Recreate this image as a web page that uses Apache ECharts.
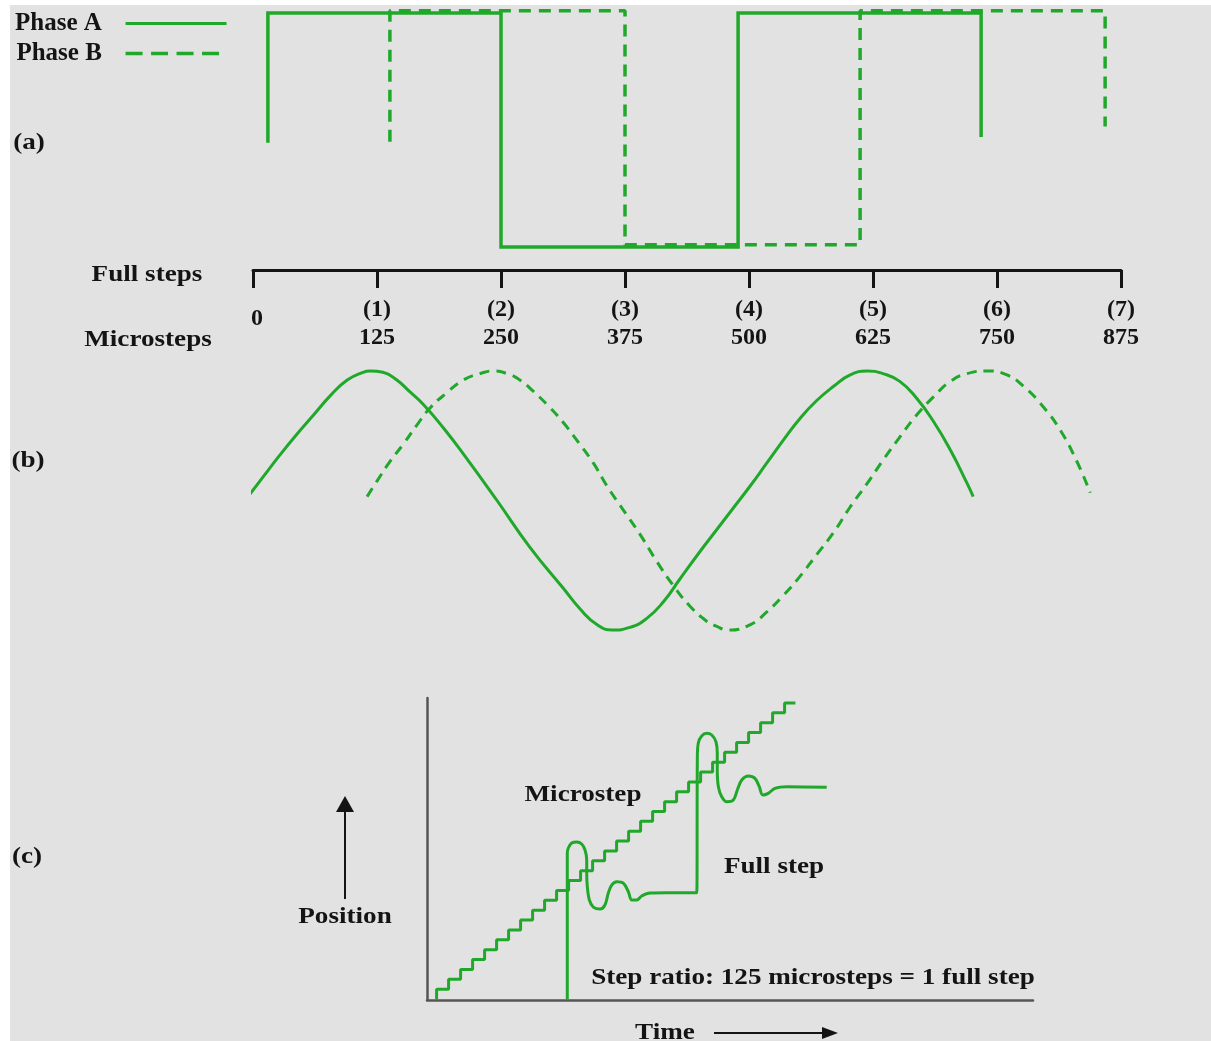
<!DOCTYPE html>
<html><head><meta charset="utf-8">
<script src="https://cdn.jsdelivr.net/npm/echarts@6/dist/echarts.min.js"></script>
<style>
html,body{margin:0;padding:0;background:#fff;}
#c{width:1211px;height:1041px;background:#e2e2e2;box-shadow:inset 10px 5px 0 0 #fff;}
</style></head><body><div id="c"></div>
<script>
// ---------- data ----------
// Panel (a): square-wave phase currents (x in microsteps, y in normalized current)
const microstepTicks = [0, 125, 250, 375, 500, 625, 750, 875];
const fullStepTicks = ['', '(1)', '(2)', '(3)', '(4)', '(5)', '(6)', '(7)'];
const squareATimes = [15, 15, 250, 250, 489, 489, 734, 734];
const squareALevels = [-0.11, 1, 1, -1, -1, 1, 1, -0.06];
const squareBTimes = [138, 138, 375, 375, 612, 612, 859, 859];
const squareBLevels = [-0.10, 1.02, 1.02, -0.98, -0.98, 1.02, 1.02, 0.03];

// Panel (b): sinusoidal phase currents
const sineATimes = [-5, 10, 27, 44, 61, 78, 95, 111, 118, 131, 145, 158, 172, 192, 212, 246, 279, 313, 330, 347, 362, 380, 397, 414, 430, 451, 467, 484, 501, 518, 535, 551, 568, 585, 602, 619, 635, 652, 669, 686, 703, 720, 726];
const sineALevels = [0.03, 0.18, 0.35, 0.51, 0.66, 0.81, 0.93, 0.99, 1.0, 0.99, 0.93, 0.84, 0.74, 0.56, 0.36, 0.0, -0.36, -0.68, -0.84, -0.96, -1.0, -0.98, -0.91, -0.78, -0.61, -0.39, -0.23, -0.06, 0.11, 0.29, 0.47, 0.63, 0.77, 0.88, 0.97, 1.0, 0.98, 0.92, 0.79, 0.61, 0.39, 0.13, 0.03];
const sineBTimes = [115, 125, 138, 152, 165, 178, 195, 212, 229, 242, 256, 269, 283, 299, 313, 326, 343, 357, 373, 390, 407, 424, 441, 457, 467, 479, 501, 518, 535, 551, 568, 585, 602, 619, 635, 652, 669, 686, 703, 720, 740, 760, 777, 797, 814, 830, 844];
const sineBLevels = [0.03, 0.15, 0.30, 0.44, 0.58, 0.71, 0.83, 0.93, 0.98, 1.0, 0.98, 0.93, 0.84, 0.72, 0.60, 0.47, 0.29, 0.11, -0.07, -0.26, -0.47, -0.66, -0.82, -0.93, -0.97, -1.0, -0.96, -0.86, -0.73, -0.59, -0.42, -0.25, -0.05, 0.13, 0.31, 0.49, 0.66, 0.80, 0.92, 0.98, 1.0, 0.97, 0.88, 0.72, 0.54, 0.31, 0.06];

// Panel (c): position vs time
const microTimes = [0.8, 1.8, 2.8, 3.8, 4.8, 5.8, 6.8, 7.8, 8.8, 9.8, 10.8, 11.8, 12.8, 13.8, 14.8, 15.8, 16.8, 17.8, 18.8, 19.8, 20.8, 21.8, 22.8, 23.8, 24.8, 25.8, 26.8, 27.8, 28.8, 29.8, 30.7];
const microPositions = [0, 1.1, 2.1, 3.1, 4.1, 5.1, 6.1, 7.1, 8.1, 9.1, 10.1, 11.1, 12.1, 13.1, 14.1, 15.1, 16.1, 17.1, 18.1, 19.1, 20.1, 21.1, 22.1, 23.1, 24.1, 25.1, 26.1, 27.1, 28.1, 29.1, 30.1];
const fullTimes = [11.69, 11.69, 11.78, 12.06, 12.48, 12.89, 13.17, 13.31, 13.31, 13.36, 13.53, 13.86, 14.42, 14.83, 15.11, 15.39, 15.81, 16.36, 16.78, 17.06, 17.48, 17.89, 18.58, 19.98, 22.48,
                   22.53, 22.61, 22.89, 23.31, 23.73, 24.08, 24.19, 24.19, 24.28, 24.56, 24.98, 25.53, 25.86, 26.23, 26.78, 27.33, 27.69, 27.98, 28.44, 29.0, 29.98, 33.31];
const fullPositions = [0, 14.89, 15.40, 15.91, 16.01, 15.81, 15.20, 14.18, 12.87, 11.48, 10.13, 9.42, 9.22, 9.63, 10.84, 11.65, 11.99, 11.85, 10.97, 10.13, 10.13, 10.54, 10.84, 10.87, 10.87,
                       24.65, 26.04, 26.75, 27.02, 26.85, 26.17, 25.03, 23.30, 21.61, 20.60, 20.09, 20.26, 21.28, 22.29, 22.70, 22.46, 21.61, 20.77, 20.94, 21.45, 21.61, 21.55];

// ---------- styles ----------
const GREEN = '#20a82a';
const INK = '#141414';
const FONT = '"Liberation Serif", "Times New Roman", serif';
const FS = 24;
const STRETCH = 1.13;

const pairs = (xs, ys) => xs.map((x, i) => [x, ys[i]]);

function txt(text, x, y) {
  return {
    type: 'text', x: x, y: y, z: 10, scaleX: STRETCH,
    style: {
      text: text, font: 'bold ' + FS + 'px ' + FONT, fill: INK,
      textAlign: 'center', textVerticalAlign: 'middle', align: 'center', verticalAlign: 'middle'
    }
  };
}

const chart = echarts.init(document.getElementById('c'), null, { renderer: 'canvas' });

const hiddenAxis = (min, max, gi) => ({ type: 'value', gridIndex: gi, min: min, max: max, show: false, splitLine: { show: false } });

const option = {
  animation: false,
  backgroundColor: 'transparent',
  legend: {
    orient: 'vertical', left: 15, top: 11, align: 'right', padding: 0,
    itemWidth: 101, itemHeight: 26, itemGap: 5,
    formatter: name => name + '   ',
    textStyle: { fontFamily: FONT, fontSize: 25, fontWeight: 'bold', color: INK },
    itemStyle: { opacity: 0 },
    data: [
      { name: 'Phase A', itemStyle: { opacity: 0 }, lineStyle: { color: GREEN, width: 3, type: 'solid' } },
      { name: 'Phase B', itemStyle: { opacity: 0 }, lineStyle: { color: GREEN, width: 3.5, type: [17, 8.5] } }
    ]
  },
  grid: [
    { left: 253, width: 868, top: 13, height: 234 },
    { left: 253, width: 868, top: 371, height: 259 },
    { left: 427, width: 606, top: 698, height: 302 }
  ],
  xAxis: [
    {
      type: 'value', gridIndex: 0, min: 0, max: 875, interval: 125, position: 'bottom', offset: 23,
      splitLine: { show: false },
      axisLine: { show: true, onZero: false, lineStyle: { color: INK, width: 3 } },
      axisTick: { show: true, inside: false, length: 18, lineStyle: { color: INK, width: 3 } },
      axisLabel: {
        show: true, interval: 0, margin: 26, showMinLabel: true, showMaxLabel: true,
        formatter: function (v) {
          const i = microstepTicks.indexOf(v);
          if (i <= 0) return '{z|' + v + '}';
          return '{a|' + fullStepTicks[i] + '}\n{a|' + v + '}';
        },
        rich: {
          a: { fontFamily: FONT, fontSize: FS, fontWeight: 'bold', color: INK, lineHeight: 28, align: 'center' },
          z: { fontFamily: FONT, fontSize: FS, fontWeight: 'bold', color: INK, lineHeight: 28, padding: [18, 0, 0, 8] }
        }
      }
    },
    hiddenAxis(0, 875, 1),
    {
      type: 'value', gridIndex: 2, min: 0, max: 50.5, position: 'bottom',
      splitLine: { show: false }, axisTick: { show: false }, axisLabel: { show: false },
      axisLine: { show: true, onZero: false, lineStyle: { color: '#555', width: 2.5 } }
    }
  ],
  yAxis: [
    hiddenAxis(-1, 1, 0),
    hiddenAxis(-1, 1, 1),
    {
      type: 'value', gridIndex: 2, min: 0, max: 30.6, position: 'left',
      splitLine: { show: false }, axisTick: { show: false }, axisLabel: { show: false },
      axisLine: { show: true, onZero: false, lineStyle: { color: '#555', width: 2.5 } }
    }
  ],
  series: [
    {
      name: 'Phase A', type: 'line', xAxisIndex: 0, yAxisIndex: 0, symbol: 'none', clip: false, z: 3,
      data: pairs(squareATimes, squareALevels),
      lineStyle: { color: GREEN, width: 3.5, type: 'solid', join: 'miter' }, itemStyle: { color: GREEN }
    },
    {
      name: 'Phase B', type: 'line', xAxisIndex: 0, yAxisIndex: 0, symbol: 'none', clip: false, z: 2,
      data: pairs(squareBTimes, squareBLevels),
      lineStyle: { color: GREEN, width: 3.5, type: [12, 8] }, itemStyle: { color: GREEN }
    },
    {
      name: 'Phase A', type: 'line', xAxisIndex: 1, yAxisIndex: 1, symbol: 'none', clip: false, smooth: 0.5,
      data: pairs(sineATimes, sineALevels),
      lineStyle: { color: GREEN, width: 3, type: 'solid' }, itemStyle: { color: GREEN }
    },
    {
      name: 'Phase B', type: 'line', xAxisIndex: 1, yAxisIndex: 1, symbol: 'none', clip: false, smooth: 0.5,
      data: pairs(sineBTimes, sineBLevels),
      lineStyle: { color: GREEN, width: 3, type: [10, 7] }, itemStyle: { color: GREEN }
    },
    {
      name: 'Microstep', type: 'line', xAxisIndex: 2, yAxisIndex: 2, symbol: 'none', clip: false, step: 'start',
      data: pairs(microTimes, microPositions),
      lineStyle: { color: GREEN, width: 3 }, itemStyle: { color: GREEN }
    },
    {
      name: 'Full step', type: 'line', xAxisIndex: 2, yAxisIndex: 2, symbol: 'none', clip: false, smooth: 0.35,
      data: pairs(fullTimes, fullPositions),
      lineStyle: { color: GREEN, width: 3 }, itemStyle: { color: GREEN }
    }
  ],
  graphic: {
    elements: [
      txt('(a)', 29, 143),
      txt('(b)', 28, 461),
      txt('(c)', 27, 857),
      txt('Full steps', 147, 275),
      txt('Microsteps', 148, 340),
      txt('Position', 345, 917),
      txt('Microstep', 583, 795),
      txt('Full step', 774, 867),
      txt('Step ratio: 125 microsteps = 1 full step', 813, 978),
      txt('Time', 665, 1033),
      { type: 'line', shape: { x1: 345, y1: 899, x2: 345, y2: 808 }, style: { stroke: INK, lineWidth: 2 } },
      { type: 'polygon', shape: { points: [[345, 796], [336, 812], [354, 812]] }, style: { fill: INK } },
      { type: 'line', shape: { x1: 714, y1: 1033, x2: 826, y2: 1033 }, style: { stroke: INK, lineWidth: 2 } },
      { type: 'polygon', shape: { points: [[838, 1033], [822, 1027], [822, 1039]] }, style: { fill: INK } }
    ]
  }
};
chart.setOption(option);
</script></body></html>
